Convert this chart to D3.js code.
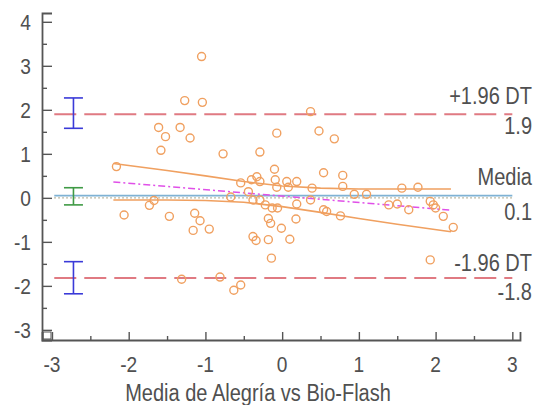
<!DOCTYPE html>
<html>
<head>
<meta charset="utf-8">
<script src="https://cdn.jsdelivr.net/npm/d3@7"></script>
<style>
  html, body { margin: 0; padding: 0; background: #fff; }
  svg text { font-family: "Liberation Sans", Arial, sans-serif; fill: #505050; }
</style>
</head>
<body>
<svg id="chart" width="535" height="405"></svg>
<script>
// Bland-Altman plot: Alegría vs Bio-Flash

// scatter: mean of the two methods (x) vs difference (y)
const pointX = [-1.05, -1.27, -1.04, -1.61, -1.52, -1.33, -1.20, -1.58, -0.77, -0.29,
  -2.16, -0.54, -0.40, -0.33, -0.29, -0.44, 0.37, -0.07, 0.48, 0.68,
  -0.10, 0.54, 0.79, -0.09, 0.06, 0.19, 0.79, 1.56, 1.77, 0.94,
  1.10, -0.07, 0.08, -0.67, -0.38, -0.29, -0.22, -0.13, -0.06, 0.19,
  -0.18, 0.39, 0.58, 0.76, 0.37, 1.39, 1.50, 1.93, 1.97, 2.00,
  1.65, 2.10, 2.23, -0.01, 0.18, 0.10, -0.18, -0.14, 0.54, 1.93,
  -2.06, -1.73, -1.67, -1.47, -1.14, -1.07, -1.16, -0.95, -0.38, -0.34,
  -1.31, -0.81, -0.63, -0.54, -0.15];
const pointY = [3.21, 2.21, 2.17, 1.60, 1.39, 1.60, 1.36, 1.08, 1.00, 1.04,
  0.71, 0.34, 0.41, 0.48, 0.37, 0.14, 1.96, 1.47, 1.52, 1.34,
  0.65, 0.57, 0.51, 0.41, 0.37, 0.37, 0.26, 0.22, 0.24, 0.08,
  0.08, 0.24, 0.24, 0.02, -0.05, -0.05, -0.16, -0.23, -0.23, -0.14,
  -0.47, 0.22, -0.31, -0.41, -0.05, -0.16, -0.14, -0.08, -0.16, -0.23,
  -0.27, -0.42, -0.67, -0.69, -0.48, -0.94, -0.95, -1.37, -0.27, -1.41,
  -0.39, -0.17, -0.06, -0.42, -0.35, -0.52, -0.74, -0.71, -0.88, -0.97,
  -1.85, -1.80, -2.10, -1.98, -0.58];

// reference lines
const meanDiff = 0.05;
const upperLoA = 1.9;
const lowerLoA = -1.82;
const lineSpan = [-2.97, 3.0];

// confidence intervals drawn as error bars at the left
const ciX = -2.72;
const ciBars = [
  { lo: 1.58, hi: 2.27, color: "#3a3ad8" },
  { lo: -0.16, hi: 0.23, color: "#3f9a45" },
  { lo: -2.18, hi: -1.45, color: "#3a3ad8" },
];

// regression of differences and its confidence band
const regX = [-2.2, 2.2];
const regY = [0.36, -0.28];
const bandX = [-2.2, -1.5, -1.0, -0.5, 0.0, 0.5, 1.0, 1.5, 2.2];
const bandUpper = [0.78, 0.62, 0.50, 0.37, 0.27, 0.22, 0.20, 0.20, 0.20];
const bandLower = [-0.05, -0.05, -0.06, -0.10, -0.20, -0.33, -0.47, -0.60, -0.77];

// axes
const xTicks = [-3, -2, -1, 0, 1, 2, 3];
const yTicks = [-3, -2, -1, 0, 1, 2, 3, 4];
const xMinor = [-2.5, -1.5, -0.5, 0.5, 1.5, 2.5];
const yMinor = [-2.5, -1.5, -0.5, 0.5, 1.5, 2.5, 3.5];

const svg = d3.select("#chart");
const x = d3.scaleLinear().domain([-3.13, 3.1]).range([42, 520]);
const y = d3.scaleLinear().domain([-3.23, 4.2]).range([340, 13]);

const axisColor = "#555";
const NARROW = 0.87;   // the original font is a condensed sans

// text helper: condensed glyphs via horizontal scale
function label(parent, tx, ty, str, size, anchor) {
  return parent.append("text")
    .attr("transform", `translate(${tx},${ty}) scale(${NARROW},1)`)
    .attr("text-anchor", anchor).attr("font-size", size)
    .text(str);
}

// ── reference lines ─────────────────────────────────────────────
function hline(v, color, dash, width) {
  svg.append("line")
    .attr("x1", x(lineSpan[0])).attr("x2", x(lineSpan[1]))
    .attr("y1", y(v)).attr("y2", y(v))
    .attr("stroke", color).attr("stroke-width", width)
    .attr("stroke-dasharray", dash);
}
hline(0, "#a8a488", "1.5,2.5", 1.3);
hline(meanDiff, "#7fb2d4", null, 1.6);
hline(upperLoA, "#e07a82", "22,8", 2);
hline(lowerLoA, "#e07a82", "22,8", 2);

// ── band + regression ──────────────────────────────────────────
const bandLine = d3.line().x(d => x(d[0])).y(d => y(d[1]));
svg.append("path").datum(d3.zip(bandX, bandUpper))
  .attr("d", bandLine).attr("fill", "none")
  .attr("stroke", "#f0a060").attr("stroke-width", 1.6);
svg.append("path").datum(d3.zip(bandX, bandLower))
  .attr("d", bandLine).attr("fill", "none")
  .attr("stroke", "#f0a060").attr("stroke-width", 1.6);
svg.append("path").datum(d3.zip(regX, regY))
  .attr("d", bandLine).attr("fill", "none")
  .attr("stroke", "#e050e8").attr("stroke-width", 1.5)
  .attr("stroke-dasharray", "7,3,2,3");

// ── points ─────────────────────────────────────────────────────
svg.append("g").selectAll("circle")
  .data(d3.zip(pointX, pointY))
  .join("circle")
  .attr("cx", d => x(d[0])).attr("cy", d => y(d[1]))
  .attr("r", 4)
  .attr("fill", "none")
  .attr("stroke", "#f0a060")
  .attr("stroke-width", 1.4);

// ── CI error bars ──────────────────────────────────────────────
for (const b of ciBars) {
  const g = svg.append("g").attr("stroke", b.color).attr("stroke-width", 1.6);
  const cx = x(ciX);
  g.append("line").attr("x1", cx).attr("x2", cx).attr("y1", y(b.lo)).attr("y2", y(b.hi));
  g.append("line").attr("x1", cx - 9.5).attr("x2", cx + 9.5).attr("y1", y(b.lo)).attr("y2", y(b.lo));
  g.append("line").attr("x1", cx - 9.5).attr("x2", cx + 9.5).attr("y1", y(b.hi)).attr("y2", y(b.hi));
}

// ── axes ───────────────────────────────────────────────────────
svg.append("g").attr("transform", `translate(0,${y.range()[0]})`)
  .call(d3.axisTop(x).tickValues(xTicks).tickSize(8).tickFormat(""));
svg.append("g").attr("transform", `translate(${x.range()[0]},0)`)
  .call(d3.axisRight(y).tickValues(yTicks).tickSize(10).tickFormat(""));
svg.append("g").attr("transform", `translate(0,${y.range()[0]})`)
  .call(d3.axisTop(x).tickValues(xMinor).tickSize(4).tickFormat(""))
  .select(".domain").remove();
svg.append("g").attr("transform", `translate(${x.range()[0]},0)`)
  .call(d3.axisRight(y).tickValues(yMinor).tickSize(5).tickFormat(""))
  .select(".domain").remove();
svg.selectAll(".domain").attr("stroke", axisColor).attr("stroke-width", 1.8);
svg.selectAll(".tick line").attr("stroke", axisColor).attr("stroke-width", 1.4);

// small box at the origin corner
svg.append("rect")
  .attr("x", x.range()[0] + 1).attr("y", y.range()[0] - 8)
  .attr("width", 8).attr("height", 7)
  .attr("fill", "none").attr("stroke", axisColor).attr("stroke-width", 1);

// tick labels
const labels = svg.append("g");
for (const t of xTicks) label(labels, x(t), 372, t, 22, "middle");
for (const t of yTicks) label(labels, 31, y(t) + 8, t, 22, "end");

// axis title
label(labels, 258, 401, "Media de Alegría vs Bio-Flash", 23, "middle");

// right-hand labels
const rightLabels = [
  { text: "+1.96 DT", v: upperLoA, dy: -10 },
  { text: upperLoA.toFixed(1), v: upperLoA, dy: 20 },
  { text: "Media", v: meanDiff, dy: -11 },
  { text: "0.1", v: meanDiff, dy: 24 },
  { text: "-1.96 DT", v: lowerLoA, dy: -7 },
  { text: "-1.8", v: lowerLoA, dy: 22 },
];
for (const d of rightLabels) label(labels, 532, y(d.v) + d.dy, d.text, 23, "end");
</script>
</body>
</html>
